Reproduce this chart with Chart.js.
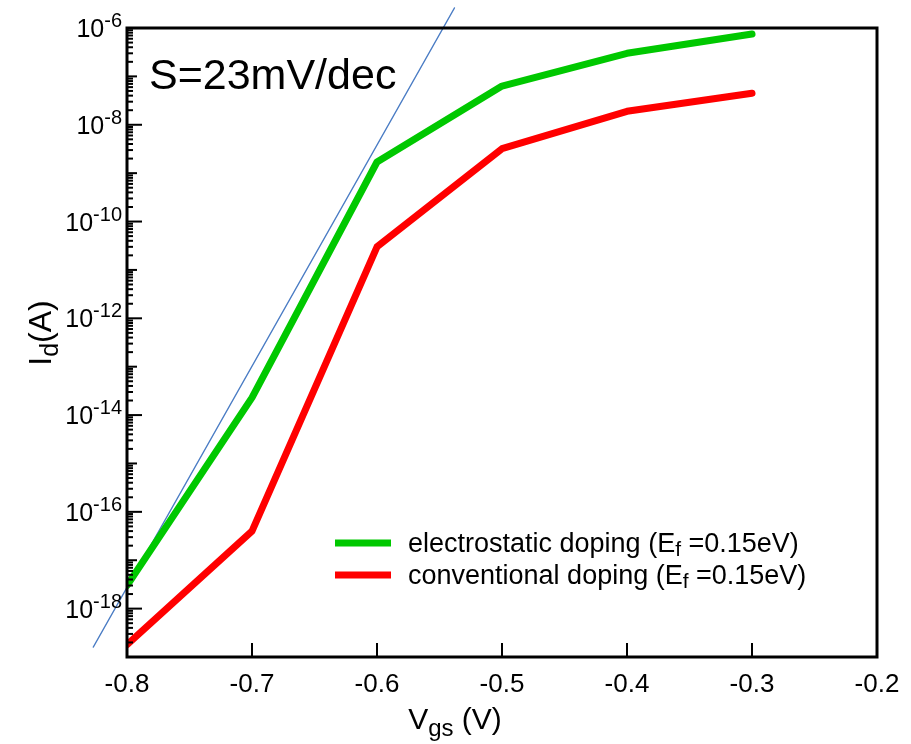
<!DOCTYPE html>
<html>
<head>
<meta charset="utf-8">
<script src="https://cdn.jsdelivr.net/npm/chart.js@4.4.0/dist/chart.umd.min.js"></script>
<style>
body { margin: 0; background: #fff; }
#wrap { width: 911px; height: 744px; }
</style>
</head>
<body>
<div id="wrap"><canvas id="myChart" width="911" height="744"></canvas></div>
<script>
// data
const vgs = [-0.8, -0.7, -0.6, -0.5, -0.4, -0.3];
const electrostatic = [3e-18, 2.3e-14, 1.7e-9, 6.3e-8, 3e-7, 7.5e-7];
const conventional = [1.8e-19, 4e-17, 3e-11, 3.2e-9, 1.9e-8, 4.5e-8];
const fitX = [-0.827, -0.538];   // slope line, S=23mV/dec
const fitY = [1.6e-19, 2.6e-6];
const xTicks = [-0.8, -0.7, -0.6, -0.5, -0.4, -0.3, -0.2];
const yLabelExp = [-6, -8, -10, -12, -14, -16, -18];
const seriesNames = ['electrostatic doping', 'conventional doping'];
const seriesColors = ['#00c800', '#ff0000'];

const FONT = '"Liberation Sans", Arial, sans-serif';

function pts(xs, ys) {
    return xs.map(function (x, i) { return { x: x, y: ys[i] }; });
}

// text with a sub/superscript part, drawn piece by piece
function drawParts(c, parts, x, y, align) {
    var total = 0;
    parts.forEach(function (p) {
        c.font = p.size + 'px ' + FONT;
        total += c.measureText(p.t).width;
    });
    var cx = align === 'right' ? x - total : (align === 'center' ? x - total / 2 : x);
    c.textAlign = 'left';
    c.textBaseline = 'alphabetic';
    parts.forEach(function (p) {
        c.font = p.size + 'px ' + FONT;
        c.fillText(p.t, cx, y + (p.dy || 0));
        cx += c.measureText(p.t).width;
    });
}

const decorations = {
    id: 'decorations',
    afterDatasetsDraw: function (chart) {
        var c = chart.ctx;
        var a = chart.chartArea;
        var xs = chart.scales.x, ys = chart.scales.y;
        c.save();
        c.fillStyle = '#000';
        c.strokeStyle = '#000';

        // frame
        c.lineWidth = 3;
        c.strokeRect(a.left, a.top, a.right - a.left, a.bottom - a.top);

        // y ticks (inward)
        c.lineWidth = 2;
        for (var d = -19; d <= -6; d++) {
            var py = ys.getPixelForValue(Math.pow(10, d));
            var len = (d % 2 === 0) ? 15 : 10;
            c.beginPath(); c.moveTo(a.left, py); c.lineTo(a.left + len, py); c.stroke();
            if (d < -6) {
                for (var m = 2; m <= 9; m++) {
                    var pm = ys.getPixelForValue(m * Math.pow(10, d));
                    c.beginPath(); c.moveTo(a.left, pm); c.lineTo(a.left + 6, pm); c.stroke();
                }
            }
        }
        // y labels 10^n
        yLabelExp.forEach(function (e) {
            var py = ys.getPixelForValue(Math.pow(10, e));
            drawParts(c, [
                { t: '10', size: 25 },
                { t: String(e), size: 20, dy: -10 }
            ], a.left - 5, py + 9, 'right');
        });

        // x ticks and labels
        xTicks.forEach(function (v) {
            var px = xs.getPixelForValue(v);
            c.beginPath(); c.moveTo(px, a.bottom); c.lineTo(px, a.bottom - 14); c.stroke();
            c.font = '26px ' + FONT;
            c.textAlign = 'center';
            c.textBaseline = 'alphabetic';
            c.fillText(v.toFixed(1), px, a.bottom + 35);
        });

        // axis titles
        drawParts(c, [
            { t: 'V', size: 30 },
            { t: 'gs', size: 24, dy: 7 },
            { t: ' (V)', size: 30 }
        ], 455, 729, 'center');
        c.save();
        c.translate(51, 333);
        c.rotate(-Math.PI / 2);
        drawParts(c, [
            { t: 'I', size: 32 },
            { t: 'd', size: 25, dy: 7 },
            { t: '(A)', size: 32 }
        ], 0, 0, 'center');
        c.restore();

        // slope annotation
        c.font = '43px ' + FONT;
        c.textAlign = 'left';
        c.fillText('S=23mV/dec', 149, 89);

        // legend
        seriesNames.forEach(function (name, i) {
            var ly = 543 + i * 32;
            c.strokeStyle = seriesColors[i];
            c.lineWidth = 7;
            c.beginPath(); c.moveTo(335, ly); c.lineTo(391, ly); c.stroke();
            c.fillStyle = '#000';
            drawParts(c, [
                { t: name + ' (E', size: 27 },
                { t: 'f', size: 21, dy: 4 },
                { t: ' =0.15eV)', size: 27 }
            ], 408, ly + 9, 'left');
        });
        c.restore();
    }
};

const ctx = document.getElementById('myChart').getContext('2d');

const myChart = new Chart(ctx, {
    type: 'line',
    data: {
        datasets: [
            {
                label: seriesNames[0],
                data: pts(vgs, electrostatic),
                borderColor: seriesColors[0],
                borderWidth: 7
            },
            {
                label: seriesNames[1],
                data: pts(vgs, conventional),
                borderColor: seriesColors[1],
                borderWidth: 7
            },
            {
                label: 'fit',
                data: pts(fitX, fitY),
                borderColor: '#4a7cc4',
                borderWidth: 1.3,
                clip: false
            }
        ]
    },
    options: {
        responsive: false,
        animation: false,
        layout: { padding: { left: 127, top: 28, right: 34, bottom: 87 } },
        elements: {
            point: { radius: 0 },
            line: { tension: 0, borderCapStyle: 'round', borderJoinStyle: 'round' }
        },
        scales: {
            x: {
                type: 'linear',
                display: false,
                min: -0.8,
                max: -0.2
            },
            y: {
                type: 'logarithmic',
                display: false,
                min: 1e-19,
                max: 1e-6
            }
        },
        plugins: {
            legend: { display: false },
            tooltip: { enabled: false }
        }
    },
    plugins: [decorations]
});
</script>
</body>
</html>
